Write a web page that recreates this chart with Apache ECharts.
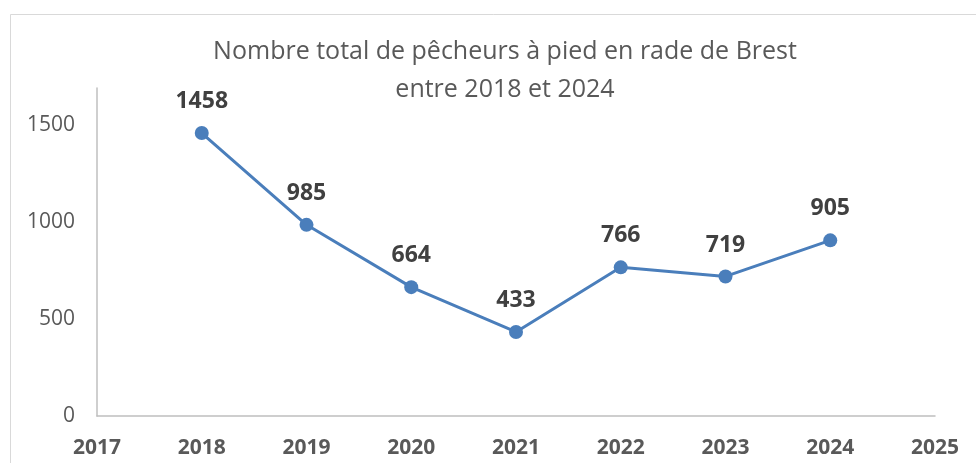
<!DOCTYPE html>
<html>
<head>
<meta charset="utf-8">
<script src="https://cdn.jsdelivr.net/npm/echarts@6/dist/echarts.min.js"></script>
<style>
  html, body { margin: 0; padding: 0; background: #fff; }
  #chart { width: 976px; height: 463px; }
</style>
</head>
<body>
<div id="chart"></div>
<script>
// data
const years = [2018, 2019, 2020, 2021, 2022, 2023, 2024]
const fishers = [1458, 985, 664, 433, 766, 719, 905]
const titleLines = ['Nombre total de pêcheurs à pied en rade de Brest', 'entre 2018 et 2024']

const chart = echarts.init(document.getElementById('chart'))

const option = {
  animation: false,
  backgroundColor: '#fff',
  title: {
    text: titleLines.join('\n'),
    left: 500,
    top: 28,
    textAlign: 'center',
    textStyle: {
      fontFamily: 'Open Sans',
      fontSize: 25,
      fontWeight: 'normal',
      color: '#595959',
      lineHeight: 38
    }
  },
  graphic: [
    {
      type: 'rect',
      left: 8,
      top: 12,
      shape: { width: 1000, height: 500 },
      style: { fill: 'none', stroke: '#d9d9d9', lineWidth: 1 },
      silent: true
    }
  ],
  grid: {
    left: 97,
    right: 41,
    top: 88,
    bottom: 47
  },
  xAxis: {
    type: 'value',
    min: 2017,
    max: 2025,
    interval: 1,
    axisLine: { show: true, lineStyle: { color: '#bfbfbf', width: 1.5 } },
    axisTick: { show: false },
    splitLine: { show: false },
    axisLabel: {
      margin: 22,
      fontFamily: 'Open Sans',
      fontSize: 21,
      fontWeight: 'bold',
      color: '#595959',
      formatter: v => String(v)
    }
  },
  yAxis: {
    type: 'value',
    min: 0,
    max: 1690,
    interval: 500,
    axisLine: { show: true, lineStyle: { color: '#bfbfbf', width: 1.5 } },
    axisTick: { show: false },
    splitLine: { show: false },
    axisLabel: {
      margin: 22,
      showMaxLabel: false,
      fontFamily: 'Open Sans',
      fontSize: 21,
      color: '#595959',
      formatter: v => String(v)
    }
  },
  series: [
    {
      type: 'line',
      data: years.map((y, i) => [y, fishers[i]]),
      symbol: 'circle',
      symbolSize: 14,
      lineStyle: { color: '#4a7ebb', width: 3 },
      itemStyle: { color: '#4a7ebb' },
      label: {
        show: true,
        position: 'top',
        distance: 13,
        fontFamily: 'Open Sans',
        fontSize: 23,
        fontWeight: 'bold',
        color: '#404040',
        formatter: p => String(p.value[1])
      }
    }
  ]
}

chart.setOption(option)
</script>
</body>
</html>
